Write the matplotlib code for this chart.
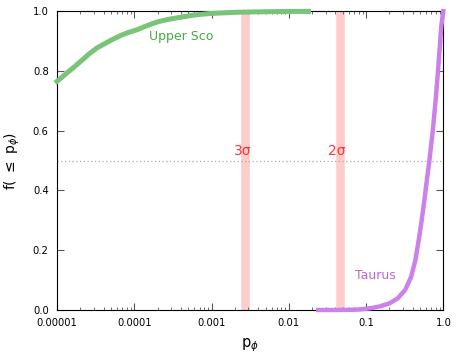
import matplotlib
matplotlib.use("Agg")
import matplotlib.pyplot as plt
import numpy as np

# cumulative fraction curves
usco_p = [1e-5, 1.3e-5, 1.7e-5, 2.2e-5, 2.6e-5, 3.3e-5, 4.2e-5, 5.2e-5, 6.85e-5, 8.5e-5,
          1.12e-4, 1.35e-4, 1.67e-4, 2e-4, 2.5e-4, 3.1e-4, 3.9e-4, 5e-4, 6.5e-4, 9.5e-4,
          1.4e-3, 2e-3, 3e-3, 5e-3, 0.01, 0.018]
usco_f = [0.765, 0.79, 0.815, 0.84, 0.857, 0.877, 0.892, 0.905, 0.92, 0.929,
          0.939, 0.948, 0.957, 0.964, 0.97, 0.975, 0.979, 0.984, 0.988, 0.992,
          0.994, 0.996, 0.997, 0.998, 0.999, 0.999]

taurus_p = [0.024, 0.04, 0.06, 0.08, 0.1, 0.12, 0.15, 0.2, 0.257, 0.32, 0.383, 0.435,
            0.48, 0.525, 0.569, 0.609, 0.66, 0.73, 0.8, 0.853, 0.9, 0.94, 1.0]
taurus_f = [0.0, 0.0, 0.0005, 0.0015, 0.004, 0.007, 0.012, 0.022, 0.039, 0.067, 0.111, 0.167,
            0.234, 0.301, 0.368, 0.43, 0.5, 0.6, 0.71, 0.8, 0.88, 0.95, 1.0]

# significance levels
sigma_p = [0.0027, 0.0455]
sigma_lab = ["3\u03c3", "2\u03c3"]

xticks = [1e-5, 1e-4, 1e-3, 1e-2, 1e-1, 1.0]
xticklabels = ["0.00001", "0.0001", "0.001", "0.01", "0.1", "1.0"]
yticks = [0.0, 0.2, 0.4, 0.6, 0.8, 1.0]

fig = plt.figure(figsize=(4.58, 3.59), dpi=100)
ax = fig.add_axes([0.1245, 0.1365, 0.8435, 0.8325])

for p in sigma_p:
    ax.axvline(p, color="#ffcccc", lw=6.2, zorder=1)
ax.axhline(0.5, color="#aaaaaa", lw=0.9, ls=(0, (1, 2)), zorder=1)

ax.plot(usco_p, usco_f, color="#7ac47a", lw=3.6, zorder=3, clip_on=False,
        solid_joinstyle="round")
ax.plot(taurus_p, taurus_f, color="#cc80ec", lw=3.2, zorder=3, clip_on=False,
        solid_joinstyle="round")

ax.text(4e-4, 0.916, "Upper Sco", color="#44aa44", fontsize=9, ha="center", va="center")
ax.text(0.132, 0.114, "Taurus", color="#bb66dd", fontsize=9, ha="center", va="center")
for p, lab in zip(sigma_p, sigma_lab):
    ax.text(p * 0.93, 0.532, lab, color="#ff3333", fontsize=10, ha="center", va="center")

ax.set_xscale("log")
ax.set_xlim(1e-5, 1.0)
ax.set_ylim(0, 1.0)
ax.set_xticks(xticks)
ax.set_xticklabels(xticklabels)
ax.set_yticks(yticks)
ax.set_yticklabels(["%.1f" % y for y in yticks])
ax.tick_params(which="both", direction="in", top=True, right=True, labelsize=7.2, pad=6)
ax.tick_params(which="major", length=5, width=0.8, color="#555555")
ax.tick_params(which="minor", length=2.5, width=0.6, color="#555555")
ax.minorticks_on()
ax.yaxis.set_minor_locator(matplotlib.ticker.NullLocator())

ax.set_xlabel(r"p$_\phi$", fontsize=10.5, labelpad=6)
ax.set_ylabel(r"f( $\leq$ p$_\phi$)", fontsize=10, labelpad=8)

fig.savefig("out.png", dpi=100)
